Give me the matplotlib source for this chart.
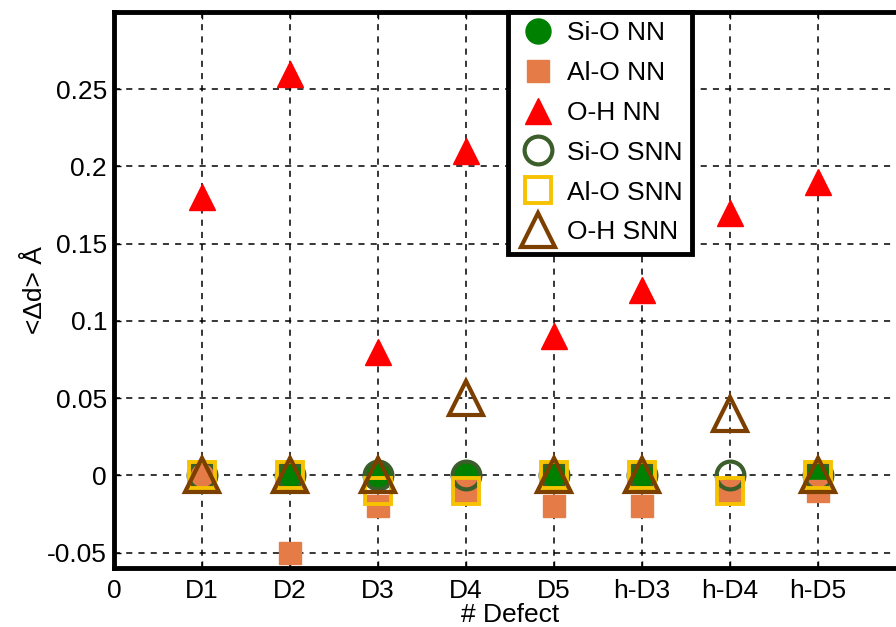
import numpy as np
import matplotlib
matplotlib.use("Agg")
import matplotlib.pyplot as plt

plt.rcParams['font.family'] = ['Liberation Sans', 'DejaVu Sans']

# x positions and labels
xpos = [1, 2, 3, 4, 5, 6, 7, 8]
tick_labels = ['0', 'D1', 'D2', 'D3', 'D4', 'D5', 'h-D3', 'h-D4', 'h-D5']

# nearest neighbours
sio_nn = [0, 0, 0, 0, 0, 0, -0.01, 0]
alo_nn = [0, -0.05, -0.02, -0.01, -0.02, -0.02, -0.01, -0.01]
oh_nn = [0.18, 0.26, 0.08, 0.21, 0.09, 0.12, 0.17, 0.19]
# second nearest neighbours
sio_snn = [0, 0, 0, 0, 0, 0, 0, 0]
alo_snn = [0, 0, -0.01, -0.01, 0, 0, -0.01, 0]
oh_snn = [0, 0, 0, 0.05, 0, 0, 0.04, 0]

fig = plt.figure(figsize=(8.96, 6.27), dpi=100)
ax = fig.add_axes([114/896, 59/627, 792/896, 556/627])

ax.plot(xpos, sio_nn, 'o', ms=18, color='#008000', mec='#008000', ls='none', label='Si-O NN', zorder=3)
ax.plot(xpos, alo_nn, 's', ms=16, color='#E57B47', mec='#E57B47', ls='none', label='Al-O NN', zorder=3)
ax.plot(xpos, oh_nn, '^', ms=19, color='#FF0000', mec='#FF0000', ls='none', label='O-H NN', zorder=3)
# D1 triangle appears filled orange in the original
ax.plot(xpos[:1], oh_snn[:1], '^', ms=22, color='#E57B47', mec='none', ls='none', zorder=3)
ax.plot(xpos, sio_snn, 'o', ms=20, mfc='none', mec='#3B5E2B', mew=3, ls='none', label='Si-O SNN', zorder=4)
ax.plot(xpos, alo_snn, 's', ms=19, mfc='none', mec='#F7C200', mew=2.8, ls='none', label='Al-O SNN', zorder=4)
ax.plot(xpos, oh_snn, '^', ms=25, mfc='none', mec='#7B3F00', mew=3, ls='none', label='O-H SNN', zorder=4)

ax.set_xlim(0, 9)
ax.set_ylim(-0.06, 0.3)
ax.set_xticks(range(9))
ax.set_xticklabels(tick_labels)
yt = [-0.05, 0, 0.05, 0.1, 0.15, 0.2, 0.25]
ax.set_yticks(yt)
ax.set_yticklabels(['-0.05', '0', '0.05', '0.1', '0.15', '0.2', '0.25'])
ax.tick_params(direction='in', length=5, width=1, labelsize=19, top=True, right=True)
ax.tick_params(axis='y', pad=5)
ax.tick_params(axis='x', pad=8)
ax.grid(True, color='black', ls=(0, (4, 4)), lw=1.1)
ax.set_axisbelow(True)
for s in ax.spines.values():
    s.set_linewidth(3.5)

ax.set_xlabel('# Defect', fontsize=19, labelpad=0)
ax.set_ylabel('<Δd> Å', fontsize=19, labelpad=0)

leg = ax.legend(loc='upper left', bbox_to_anchor=(508/896, 1 - 12/627), bbox_transform=fig.transFigure,
                fontsize=19, frameon=True, fancybox=False, framealpha=1, edgecolor='black',
                borderpad=0.35, labelspacing=0.6, handletextpad=0.3, handlelength=1.6, borderaxespad=0)
leg.get_frame().set_linewidth(3.5)
leg.set_zorder(10)

fig.savefig('out.png', dpi=100)
